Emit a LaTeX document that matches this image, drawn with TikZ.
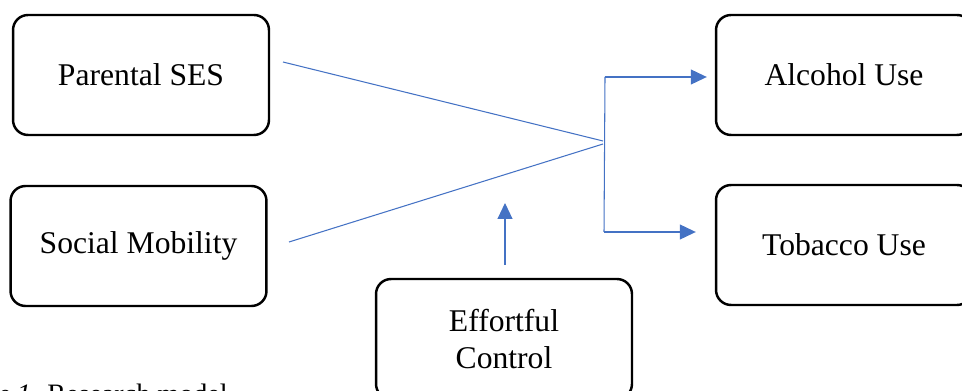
\documentclass[tikz,border=0pt]{standalone}
\usepackage{fontspec}
\setmainfont{Liberation Serif}
\usepackage{xcolor}
\usepackage{tikz}
\usetikzlibrary{arrows.meta, calc}
\definecolor{officeblue}{HTML}{4472C4}
\definecolor{ink}{HTML}{000000}
\tikzset{
  varbox/.style={draw=ink, line width=1.4pt, rounded corners=3mm, fill=white, align=center, font=\fontsize{18}{21}\selectfont, minimum width=5.12cm, minimum height=2.4cm, inner sep=4pt},
  link/.style={draw=officeblue, line width=0.6pt},
  linkarrow/.style={-{Triangle[length=3.2mm, width=3mm]}, line width=0.6pt, draw=officeblue, fill=officeblue},
}
\begin{document}
\begin{tikzpicture}[x=0.02cm, y=-0.02cm]
  \useasboundingbox (0,0) rectangle (962,391);
  % Predictors, moderator and outcomes
  \node[varbox] (pses) at (141,75) {Parental SES};
  \node[varbox] (smob) at (138.5,246) {Social Mobility};
  \node[varbox] (alcohol) at (844,75) {Alcohol Use};
  \node[varbox] (tobacco) at (844,245) {Tobacco Use};
  \node[varbox] (effort) at (504,339) {Effortful\\Control};
  % Junction points of the connectors
  \coordinate (psesend) at (283,62);
  \coordinate (smobend) at (289,242);
  \coordinate (meeta) at (603,141);
  \coordinate (meetb) at (603,144);
  \coordinate (jtop) at (605,77);
  \coordinate (jbot) at (604,232);
  \coordinate (efforttip) at (505,203);
  \draw[link] (psesend) -- (meeta);
  \draw[link] (smobend) -- (meetb);
  \draw[link] (jtop) -- (jbot);
  \draw[linkarrow, shorten >=1.6mm] (jtop) -- (jtop -| alcohol.west);
  \draw[linkarrow, shorten >=3.8mm] (jbot) -- (jbot -| tobacco.west);
  \draw[linkarrow, shorten <=2.6mm] (effort.north -| efforttip) -- (efforttip);
  \node[font=\fontsize{16}{19}\selectfont, anchor=base east, inner sep=0pt] (caption) at (228,403) {\textit{Figure 1.} Research model};
\end{tikzpicture}
\end{document}
